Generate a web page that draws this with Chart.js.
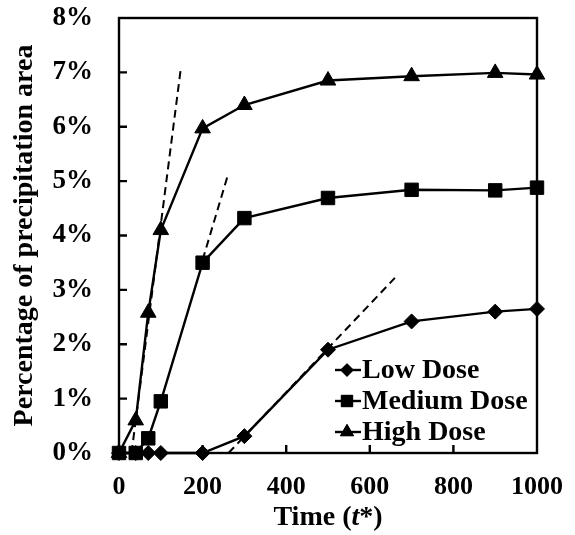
<!DOCTYPE html>
<html>
<head>
<meta charset="utf-8">
<script src="https://cdn.jsdelivr.net/npm/chart.js@4.4.1/dist/chart.umd.min.js"></script>
<style>
  body { margin: 0; background: #fff; }
  #chart { display: block; }
</style>
</head>
<body>
<canvas id="chart" width="575" height="535"></canvas>
<script>
const times = [0, 40, 70, 100, 200, 300, 500, 700, 900, 1000];
const lowDose = [0, 0, 0, 0, 0, 0.31, 1.9, 2.42, 2.6, 2.65];
const mediumDose = [0, 0, 0.27, 0.95, 3.5, 4.32, 4.69, 4.84, 4.83, 4.88];
const highDose = [0, 0.6, 2.58, 4.1, 5.97, 6.4, 6.85, 6.93, 6.99, 6.96];

// dashed tangent lines, [time, percent] at both ends
const highTangent = [[30, 0], [148, 7.08]];
const mediumTangent = [[200, 3.55], [260, 5.1]];
const lowTangent = [[262, 0], [660, 3.22]];

const xTicks = [0, 200, 400, 600, 800, 1000];
const yTicks = [0, 1, 2, 3, 4, 5, 6, 7, 8];

const serif = '"Liberation Serif", "Times New Roman", serif';
Chart.defaults.font.family = serif;
Chart.defaults.color = '#000';

const toPoints = (ys) => ys.map((v, i) => ({ x: times[i], y: v }));
const toLine = (pair) => pair.map(([x, y]) => ({ x, y }));

const seriesStyle = (pointStyle, radius) => ({
  borderColor: '#000',
  backgroundColor: '#000',
  borderWidth: 2.4,
  pointStyle,
  pointRadius: radius,
  pointHoverRadius: radius,
  pointBackgroundColor: '#000',
  pointBorderColor: '#000',
  pointBorderWidth: 1,
  tension: 0,
  clip: false
});

const dashStyle = {
  borderColor: '#000',
  borderWidth: 2,
  borderDash: [8, 5],
  pointRadius: 0,
  tension: 0,
  order: 5,
  inLegend: false
};

const datasets = [
  { label: 'Low Dose', data: toPoints(lowDose), order: 2, ...seriesStyle('rectRot', 7.5) },
  { label: 'Medium Dose', data: toPoints(mediumDose), order: 0, ...seriesStyle('rect', 9.5) },
  { label: 'High Dose', data: toPoints(highDose), order: 1, ...seriesStyle('triangle', 9) },
  { label: 'tangent high', data: toLine(highTangent), ...dashStyle },
  { label: 'tangent medium', data: toLine(mediumTangent), ...dashStyle },
  { label: 'tangent low', data: toLine(lowTangent), ...dashStyle }
];

// box around the plot with short inward ticks
const framePlugin = {
  id: 'frame',
  beforeDatasetsDraw(chart) {
    const { ctx, chartArea: a, scales: { x, y } } = chart;
    ctx.save();
    ctx.strokeStyle = '#000';
    ctx.lineWidth = 2.4;
    ctx.strokeRect(a.left, a.top, a.width, a.height);
    ctx.beginPath();
    xTicks.slice(1, -1).forEach(t => {
      const px = x.getPixelForValue(t);
      ctx.moveTo(px, a.bottom);
      ctx.lineTo(px, a.bottom - 8);
    });
    yTicks.slice(1, -1).forEach(t => {
      const py = y.getPixelForValue(t);
      ctx.moveTo(a.left, py);
      ctx.lineTo(a.left + 8, py);
    });
    ctx.stroke();
    ctx.restore();
  }
};

// legend inside the plot, marker on a short line like the spreadsheet one
const legendPlugin = {
  id: 'innerLegend',
  afterDatasetsDraw(chart) {
    const { ctx, chartArea: a } = chart;
    const items = chart.data.datasets.filter(d => d.inLegend !== false);
    const x0 = a.left + 216;
    const y0 = a.bottom - 83;
    ctx.save();
    ctx.font = 'bold 28px ' + serif;
    ctx.textBaseline = 'middle';
    ctx.fillStyle = '#000';
    items.forEach((d, i) => {
      const yy = y0 + i * 31;
      ctx.strokeStyle = '#000';
      ctx.lineWidth = 2.4;
      ctx.beginPath();
      ctx.moveTo(x0, yy);
      ctx.lineTo(x0 + 26, yy);
      ctx.stroke();
      ctx.lineWidth = 1;
      Chart.helpers.drawPoint(ctx, { pointStyle: d.pointStyle, radius: d.pointRadius * 0.85, rotation: 0, borderWidth: 1 }, x0 + 12, yy);
      ctx.fill();
      ctx.fillText(d.label, x0 + 27, yy + 1);
    });
    ctx.restore();
  }
};

// x title with italic t
const xTitlePlugin = {
  id: 'xTitle',
  afterDraw(chart) {
    const { ctx, chartArea: a } = chart;
    const parts = [['Time (', 'bold'], ['t', 'italic bold'], ['*)', 'bold']];
    ctx.save();
    ctx.fillStyle = '#000';
    ctx.textBaseline = 'middle';
    let total = 0;
    parts.forEach(p => { ctx.font = p[1] + ' 28px ' + serif; total += ctx.measureText(p[0]).width; });
    let cx = (a.left + a.right) / 2 - total / 2;
    parts.forEach(p => {
      ctx.font = p[1] + ' 28px ' + serif;
      ctx.fillText(p[0], cx, 518);
      cx += ctx.measureText(p[0]).width;
    });
    ctx.restore();
  }
};

new Chart(document.getElementById('chart'), {
  type: 'line',
  data: { datasets },
  options: {
    responsive: false,
    animation: false,
    devicePixelRatio: 1,
    layout: { padding: { top: 18, right: 38, left: 0, bottom: 0 } },
    plugins: {
      legend: { display: false },
      tooltip: { enabled: false }
    },
    scales: {
      x: {
        type: 'linear',
        min: 0,
        max: 1000,
        afterBuildTicks: (s) => { s.ticks = xTicks.map(v => ({ value: v })); },
        ticks: { font: { size: 26, weight: 'bold' }, padding: 19, maxRotation: 0, callback: (v) => String(v) },
        grid: { display: false, drawTicks: false },
        border: { display: false },
        afterFit: (s) => { s.height = 82; s.paddingLeft = 0; s.paddingRight = 0; }
      },
      y: {
        min: 0,
        max: 8,
        afterBuildTicks: (s) => { s.ticks = yTicks.map(v => ({ value: v })); },
        ticks: { font: { size: 27, weight: 'bold' }, padding: 26, callback: (v) => v + '%' },
        grid: { display: false, drawTicks: false },
        border: { display: false },
        title: {
          display: true,
          text: 'Percentage of precipitation area',
          font: { size: 28, weight: 'bold' },
          padding: { top: 8, bottom: 0 }
        },
        afterFit: (s) => { s.width = 119; s.paddingTop = 0; s.paddingBottom = 0; }
      }
    }
  },
  plugins: [framePlugin, legendPlugin, xTitlePlugin]
});
</script>
</body>
</html>
